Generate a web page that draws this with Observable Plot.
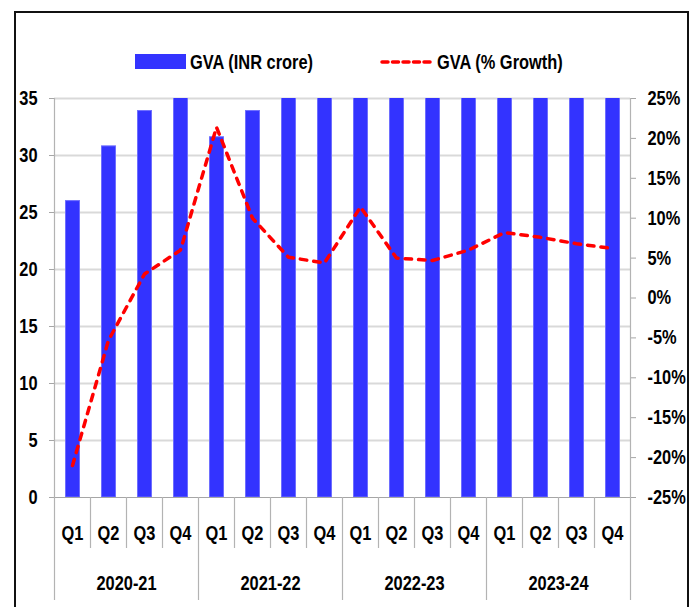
<!DOCTYPE html>
<html>
<head>
<meta charset="utf-8">
<script src="https://cdn.jsdelivr.net/npm/d3@7"></script>
<script src="https://cdn.jsdelivr.net/npm/@observablehq/plot@0.6"></script>
<style>
  html, body { margin: 0; padding: 0; background: #fff; }
  body { width: 694px; height: 607px; position: relative; overflow: hidden;
         font-family: "Liberation Sans", Arial, sans-serif; font-weight: bold; }
  #border { position: absolute; left: 14px; top: 11px; width: 675px; height: 700px; box-sizing: border-box; border: 2px solid #111; }
  #legend { position: absolute; left: 0; top: 50px; width: 694px; height: 24px; font-size: 20px; color: #000; }
  .sw { position: absolute; }
  .lt { position: absolute; top: 0; line-height: 24px; white-space: nowrap; transform: scaleX(0.82); transform-origin: 0 50%; }
  #chart { position: absolute; left: 0; top: 86px; }
</style>
</head>
<body>
<div id="border"></div>
<div id="legend">
  <div class="sw" style="left:135px; top:4px; width:51px; height:15px; background:#3333ff;"></div>
  <div class="lt" style="left:190px;">GVA (INR crore)</div>
  <svg class="sw" style="left:380px; top:6px;" width="54" height="12"><line x1="2" y1="6" x2="52" y2="6" stroke="#ff0000" stroke-width="3.5" stroke-dasharray="6,4.5" stroke-linecap="round"/></svg>
  <div class="lt" style="left:437px;">GVA (% Growth)</div>
</div>
<div id="chart"></div>
<script>
const years = ["2020-21", "2021-22", "2022-23", "2023-24"];
const quarters = ["Q1","Q2","Q3","Q4","Q1","Q2","Q3","Q4","Q1","Q2","Q3","Q4","Q1","Q2","Q3","Q4"];
const gvaCrore = [26.0, 30.8, 33.9, 36.5, 31.6, 33.9, 35.6, 38.1, 35.2, 35.6, 37.3, 40.4, 38.1, 38.3, 39.8, 42.9];
const gvaGrowth = [-21.0, -5.3, 3.0, 6.0, 21.4, 10.0, 5.1, 4.4, 11.4, 5.0, 4.7, 6.0, 8.2, 7.6, 6.8, 6.2];
const leftTicks = [0, 5, 10, 15, 20, 25, 30, 35];
const rightTicks = [-25, -20, -15, -10, -5, 0, 5, 10, 15, 20, 25];

const yMax = 35, pMin = -25, pMax = 25;
const toLeft = p => (p - pMin) / (pMax - pMin) * yMax;
const toPct = v => v / yMax * (pMax - pMin) + pMin;

const quarterBounds = d3.range(1, quarters.length).filter(i => i % 4 !== 0);
const yearBounds = d3.range(0, quarters.length + 1, 4);

const chart = Plot.plot({
  width: 694,
  height: 521,
  marginLeft: 54,
  marginRight: 64,
  marginTop: 12,
  marginBottom: 110,
  style: { fontFamily: '"Liberation Sans", Arial, sans-serif', fontSize: "20px", fontWeight: "bold", color: "#000", background: "transparent", overflow: "visible" },
  x: { type: "linear", domain: [0, quarters.length], axis: null },
  y: { domain: [0, yMax], axis: null },
  marks: [
    Plot.ruleY(leftTicks.filter(d => d > 0), { y: d => d, stroke: "#d9d9d9", strokeWidth: 2 }),
    Plot.ruleX([0, quarters.length], { x: d => d, stroke: "#b3b3b3", strokeWidth: 1.2 }),
    Plot.rectY(gvaCrore, { x1: (d, i) => i, x2: (d, i) => i + 1, y1: 0, y2: d => d, insetLeft: 11.5, insetRight: 10.5, fill: "#3333ff", stroke: "#6e6eff", strokeWidth: 1, clip: true }),
    Plot.ruleY([0], { y: d => d, stroke: "#a6a6a6", strokeWidth: 1.2, insetLeft: -5, insetRight: -5 }),
    Plot.ruleX(quarterBounds, { x: d => d, y1: 0, y2: 0, insetBottom: -51, stroke: "#b3b3b3", strokeWidth: 1.2 }),
    Plot.ruleX(yearBounds, { x: d => d, y1: 0, y2: 0, insetBottom: -103, stroke: "#b3b3b3", strokeWidth: 1.2 }),
    Plot.line(gvaGrowth, { x: (d, i) => i + 0.5, y: d => toLeft(d), stroke: "#ff0000", strokeWidth: 3.5, strokeDasharray: "6.5,7", strokeLinecap: "round", strokeLinejoin: "round" }),
    Plot.axisY({ anchor: "left", ticks: leftTicks, tickSize: 5, tickPadding: 12, stroke: "#a6a6a6", fill: "#000", label: null }),
    Plot.axisY({ anchor: "right", ticks: rightTicks.map(toLeft), tickFormat: v => `${Math.round(toPct(v))}%`, tickSize: 5, tickPadding: 12, stroke: "#a6a6a6", fill: "#000", label: null }),
    Plot.text(quarters, { x: (d, i) => i + 0.5, y: 0, text: d => d, dy: 36, fill: "#000" }),
    Plot.text(years, { x: (d, i) => i * 4 + 2, y: 0, text: d => d, dy: 86, fill: "#000" })
  ]
});
document.getElementById("chart").appendChild(chart);
// Emulate a narrow bold face by compressing glyphs horizontally
chart.querySelectorAll("text").forEach(t => {
  const w = t.getComputedTextLength();
  if (w > 0) {
    t.setAttribute("textLength", (w * 0.82).toFixed(2));
    t.setAttribute("lengthAdjust", "spacingAndGlyphs");
  }
});
</script>
</body>
</html>
